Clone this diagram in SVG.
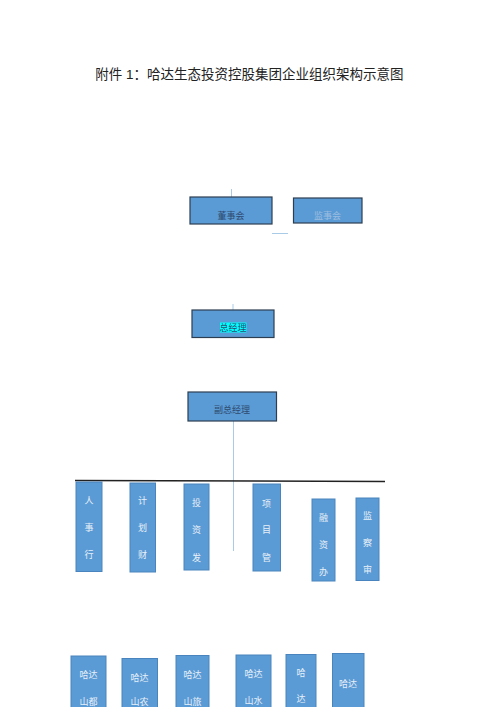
<svg xmlns="http://www.w3.org/2000/svg" width="500" height="707" viewBox="0 0 500 707">
<style>
.title{font-family:"Liberation Sans","Noto Sans CJK SC",sans-serif;font-size:13.5px;fill:#222;}
.top{fill:#5B9BD5;stroke:#2C3E52;stroke-width:1.2;}
.tt{font-family:"Noto Sans CJK SC",sans-serif;font-size:9px;fill:#2E4A70;text-anchor:middle;dominant-baseline:central;}
.dept{fill:#5B9BD5;stroke:#4A84BE;stroke-width:1;}
.dt{font-family:"Noto Sans CJK SC",sans-serif;font-size:9px;fill:#E8F0F8;text-anchor:middle;dominant-baseline:central;}
.conn{stroke:#A9CBE8;stroke-width:1;fill:none;}
</style>
<rect width="500" height="707" fill="#ffffff"/>
<text class="title" x="249.5" y="79" text-anchor="middle">附件 1：哈达生态投资控股集团企业组织架构示意图</text>
<g id="connectors">
<line class="conn" x1="231.5" y1="189" x2="231.5" y2="197"/>
<line class="conn" x1="272" y1="233.5" x2="288" y2="233.5"/>
<line class="conn" x1="233" y1="304" x2="233" y2="310"/>
<line class="conn" x1="233.5" y1="421" x2="233.5" y2="551"/>
<line x1="75" y1="480.5" x2="385" y2="481.5" stroke="#222" stroke-width="1.5"/>
</g>
<g id="board"><rect class="top" x="190" y="197" width="82" height="27"/><text class="tt" x="231" y="215">董事会</text></g>
<g id="supervisors"><rect class="top" x="293.5" y="198" width="68.5" height="25"/><text class="tt" x="327.5" y="215" style="fill:#9DBDE0">监事会</text></g>
<g id="gm"><rect class="top" x="192" y="310" width="82" height="27.5"/><rect x="220" y="322.5" width="26.5" height="10" fill="#00FFFF"/><text class="tt" x="233" y="327.5">总经理</text></g>
<g id="vgm"><rect class="top" x="188" y="392" width="88.5" height="29"/><text class="tt" x="232" y="409.5">副总经理</text></g>
<g id="d1"><rect class="dept" x="76" y="482" width="26" height="89.5"/><text class="dt" x="89" y="500">人</text><text class="dt" x="89" y="527">事</text><text class="dt" x="89" y="554">行</text></g>
<g id="d2"><rect class="dept" x="130" y="483" width="25.5" height="89"/><text class="dt" x="142.5" y="500">计</text><text class="dt" x="142.5" y="527">划</text><text class="dt" x="142.5" y="554">财</text></g>
<g id="d3"><rect class="dept" x="184" y="484" width="25" height="86"/><text class="dt" x="196.5" y="502">投</text><text class="dt" x="196.5" y="529">资</text><text class="dt" x="196.5" y="557">发</text></g>
<g id="d4"><rect class="dept" x="253" y="484" width="27.5" height="87"/><text class="dt" x="266.5" y="503">项</text><text class="dt" x="266.5" y="529">目</text><text class="dt" x="266.5" y="557">管</text></g>
<g id="d5"><rect class="dept" x="312" y="499" width="23" height="82"/><text class="dt" x="323.5" y="517">融</text><text class="dt" x="323.5" y="544">资</text><text class="dt" x="323.5" y="571">办</text></g>
<g id="d6"><rect class="dept" x="356" y="498" width="23" height="82.5"/><text class="dt" x="367.5" y="515">监</text><text class="dt" x="367.5" y="542">察</text><text class="dt" x="367.5" y="569">审</text></g>
<g id="c1"><rect class="dept" x="71" y="656" width="35" height="60"/><text class="dt" x="88.5" y="674">哈达</text><text class="dt" x="88.5" y="701">山都</text></g>
<g id="c2"><rect class="dept" x="122" y="658.5" width="35.5" height="60"/><text class="dt" x="139.5" y="677">哈达</text><text class="dt" x="139.5" y="701.5">山农</text></g>
<g id="c3"><rect class="dept" x="176" y="655.5" width="33" height="60"/><text class="dt" x="192.5" y="674">哈达</text><text class="dt" x="192.5" y="701">山旅</text></g>
<g id="c4"><rect class="dept" x="236" y="655" width="35" height="60"/><text class="dt" x="253.5" y="673">哈达</text><text class="dt" x="253.5" y="700">山水</text></g>
<g id="c5"><rect class="dept" x="286" y="654.5" width="30" height="60"/><text class="dt" x="301" y="672">哈</text><text class="dt" x="301" y="698">达</text></g>
<g id="c6"><rect class="dept" x="332.5" y="653.5" width="31.5" height="60"/><text class="dt" x="348" y="683.5">哈达</text></g>
</svg>
